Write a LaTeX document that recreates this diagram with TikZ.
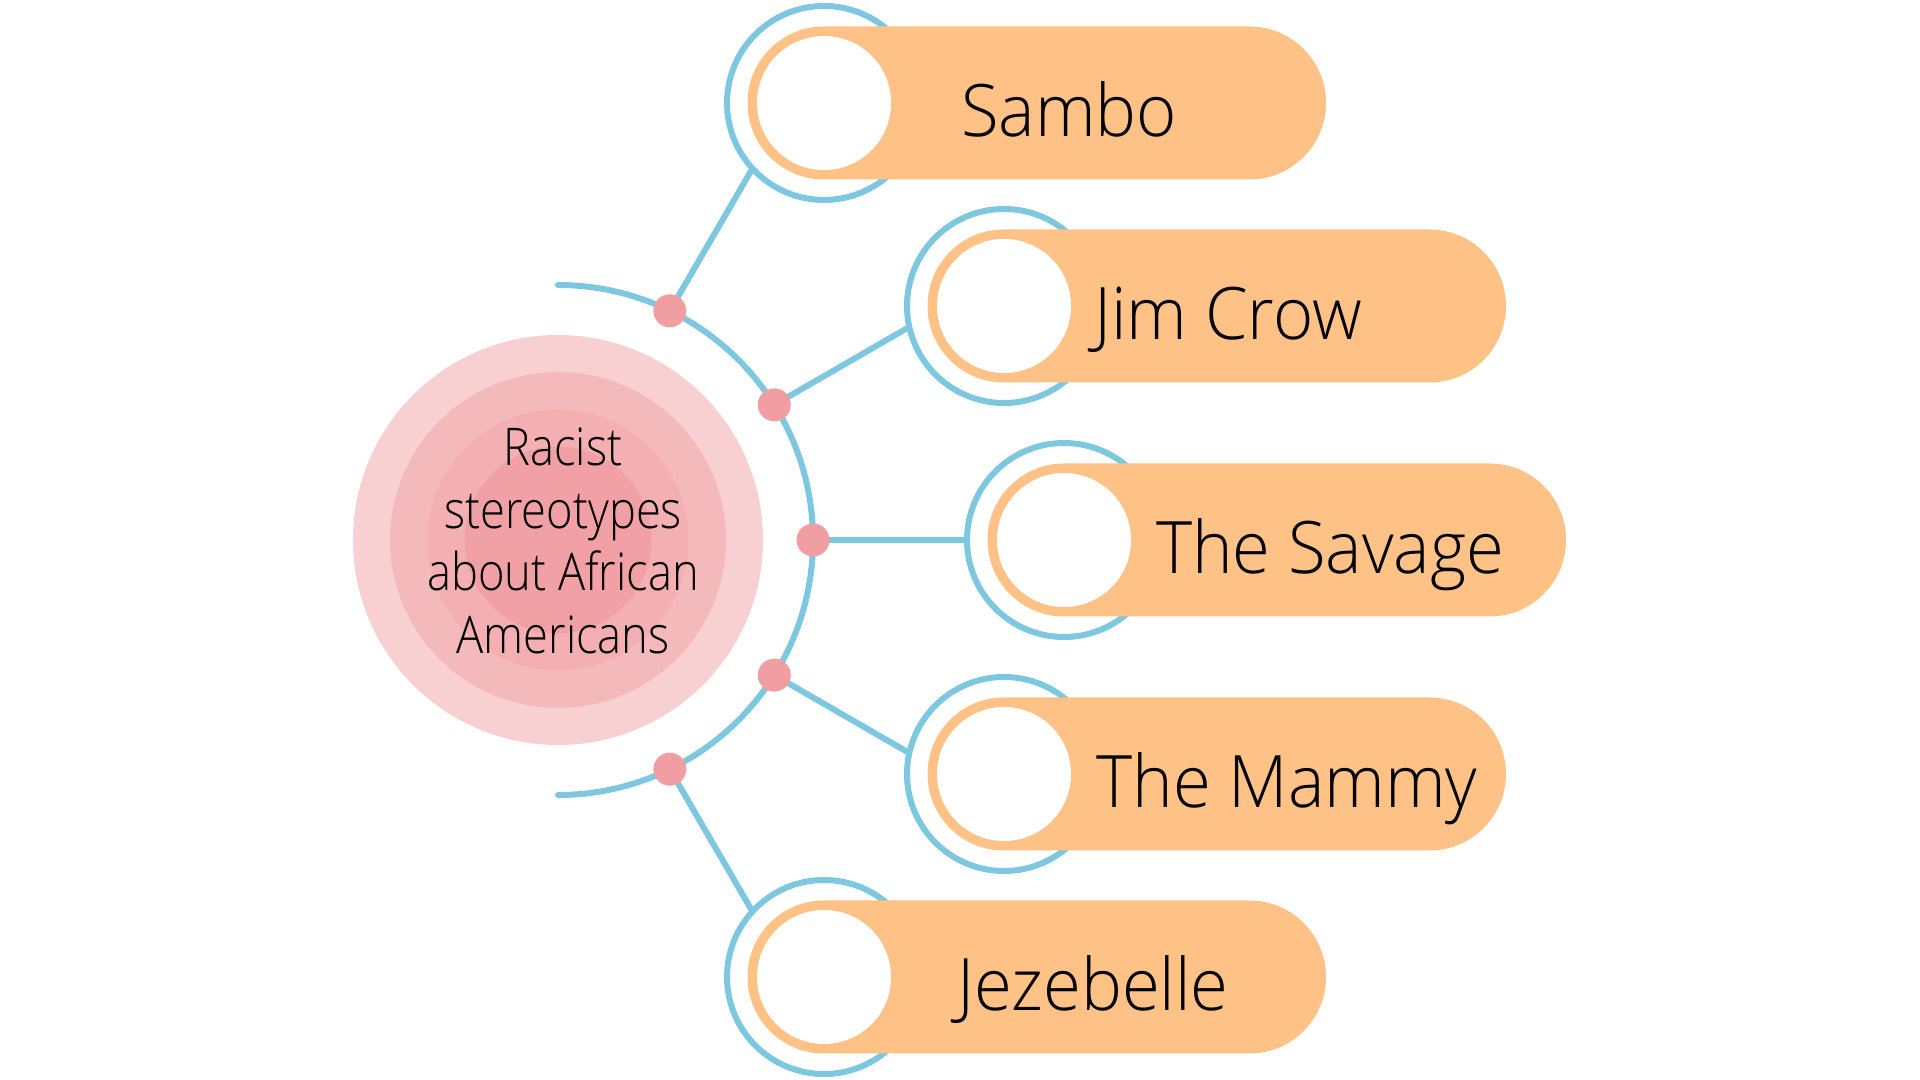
\documentclass[tikz,border=0pt]{standalone}
\usepackage{fontspec}
\setmainfont{Open Sans}[UprightFont=* Light]
\usepackage{tikz}
\usetikzlibrary{positioning,calc,backgrounds}

\definecolor{skyline}{HTML}{7DC8E0}
\definecolor{peach}{HTML}{FEC286}
\definecolor{dotpink}{HTML}{F19EA2}
\definecolor{rosea}{HTML}{F8D0D1}
\definecolor{roseb}{HTML}{F4B9BB}
\definecolor{rosec}{HTML}{F3AFB2}
\definecolor{rosed}{HTML}{F1A1A5}

\tikzset{
    ring/.style={circle,draw=skyline,line width=0.06cm,fill=white,minimum size=1.94cm,inner sep=0pt},
    dot/.style={circle,fill=dotpink,minimum size=0.33cm,inner sep=0pt},
    link/.style={skyline,line width=0.06cm,line cap=round},
    itemtext/.style={anchor=base,font=\fontsize{20.6}{25}\selectfont\addfontfeature{FakeStretch=0.95},text=black},
}

\begin{document}
\begin{tikzpicture}
    \useasboundingbox (0,0) rectangle (19.2,10.8);
    \coordinate (c) at (5.58,5.40);

    % Hub circles
    \fill[rosea] (c) circle (2.05);
    \fill[roseb] (c) circle (1.68);
    \fill[rosec] (c) circle (1.305);
    \fill[rosed] (c) circle (0.935);
    \node[align=center,font=\fontsize{14.8}{17.8}\selectfont\addfontfeature{FakeStretch=0.87}] (hub) at (5.63,5.39)
        {Racist\\stereotypes\\about African\\Americans};

    % Dots on the arc
    \foreach \a [count=\i] in {64,32,0,-32,-64}
        \node[dot] (d\i) at ([shift={(\a:2.55)}]c) {};

    % Item rings
    \node[ring] (r1) at (8.24,9.77) {};
    \node[ring] (r2) at (10.04,7.74) {};
    \node[ring] (r3) at (10.64,5.40) {};
    \node[ring] (r4) at (10.04,3.06) {};
    \node[ring] (r5) at (8.24,1.03) {};

    % Capsules with labels
    \foreach \i/\dx/\txt in {1/2.45/Sambo,2/2.24/Jim Crow,3/2.66/The Savage,4/2.83/The Mammy,5/2.69/Jezebelle}{
        \fill[peach,rounded corners=0.765cm] ($(r\i)+(-0.765,-0.765)$) rectangle ++(5.785,1.53);
        \fill[white] (r\i) circle (0.67);
        \node[itemtext] (t\i) at ($(r\i)+(\dx,-0.34)$) {\txt};
    }

    % Arc and links
    \begin{scope}[on background layer]
        \draw[link] (c) ++(90:2.55) arc[start angle=90,end angle=-90,radius=2.55];
        \draw[link] (d1.center) -- (r1.223);
        \draw[link] (d2.center) -- (r2.193);
        \draw[link] (d3.center) -- (r3.180);
        \draw[link] (d4.center) -- (r4.167);
        \draw[link] (d5.center) -- (r5.137);
    \end{scope}
\end{tikzpicture}
\end{document}
